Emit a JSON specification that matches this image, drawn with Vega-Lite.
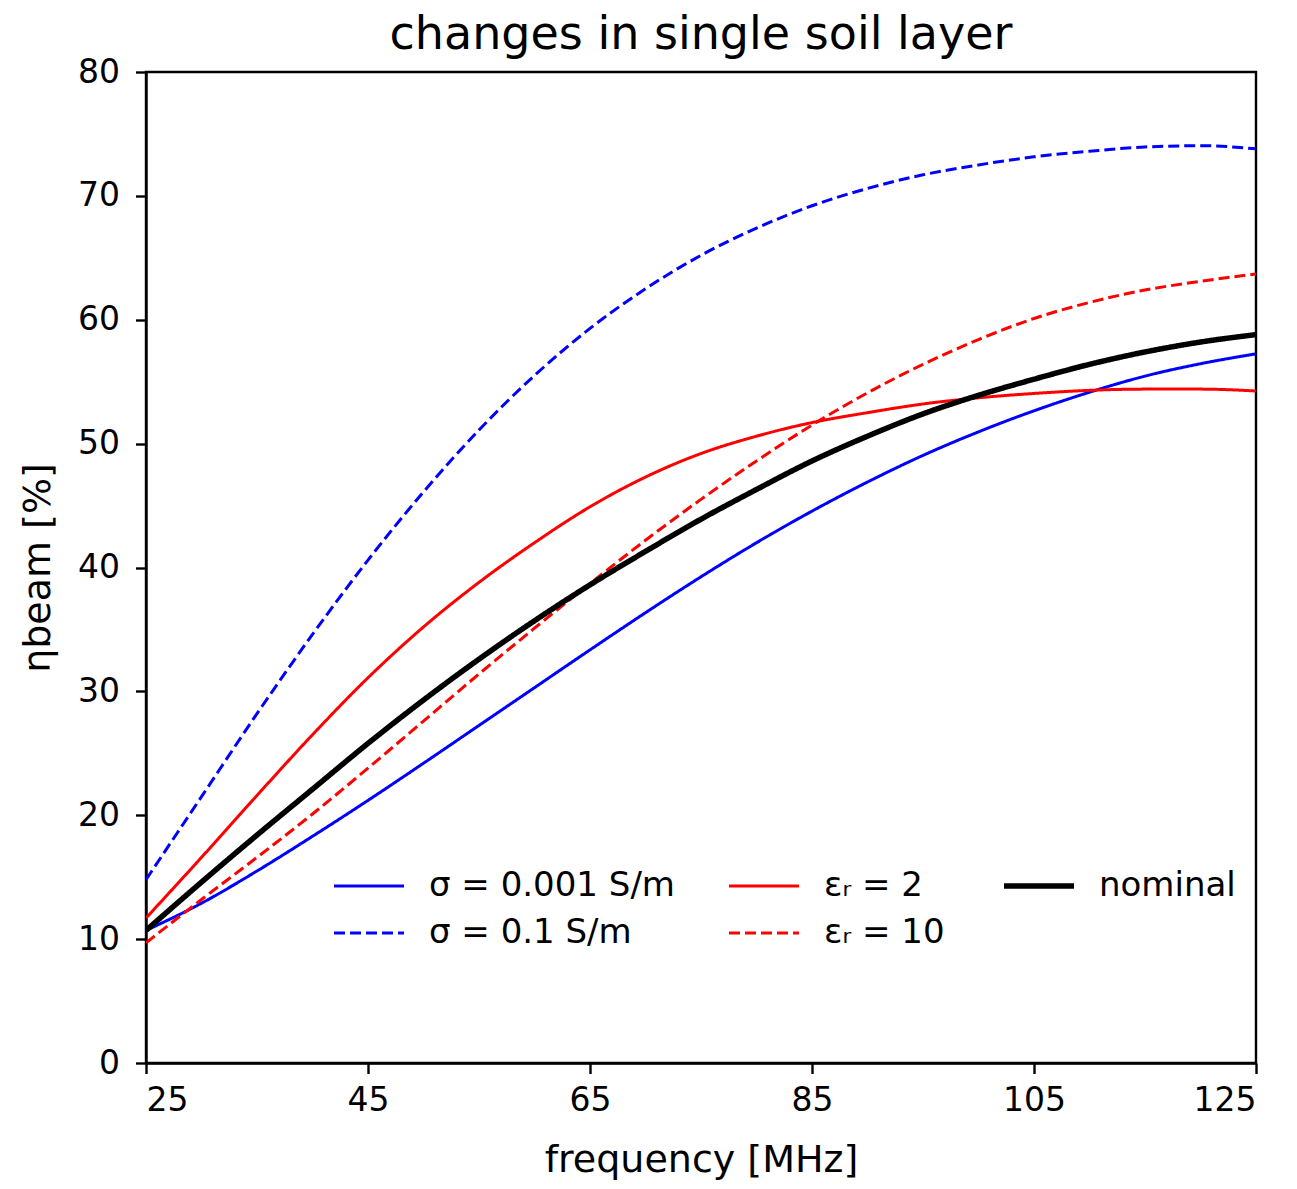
{
  "$schema": "https://vega.github.io/schema/vega-lite/v6.json",
  "width": 1110,
  "height": 991,
  "autosize": {"type": "none"},
  "padding": {"left": 146, "top": 72, "right": 41, "bottom": 126},
  "background": "white",
  "title": {"text": "changes in single soil layer", "fontSize": 46, "font": "DejaVu Sans", "fontWeight": "normal", "color": "black", "offset": -3, "anchor": "middle"},
  "data": {"values": [
    {"f":25,"v":10.7,"s":"σ = 0.001 S/m"},{"f":30,"v":12.9,"s":"σ = 0.001 S/m"},{"f":35,"v":15.5,"s":"σ = 0.001 S/m"},{"f":40,"v":18.3,"s":"σ = 0.001 S/m"},{"f":45,"v":21.2,"s":"σ = 0.001 S/m"},{"f":50,"v":24.2,"s":"σ = 0.001 S/m"},{"f":55,"v":27.25,"s":"σ = 0.001 S/m"},{"f":60,"v":30.3,"s":"σ = 0.001 S/m"},{"f":65,"v":33.35,"s":"σ = 0.001 S/m"},{"f":70,"v":36.35,"s":"σ = 0.001 S/m"},{"f":75,"v":39.25,"s":"σ = 0.001 S/m"},{"f":80,"v":42.0,"s":"σ = 0.001 S/m"},{"f":85,"v":44.55,"s":"σ = 0.001 S/m"},{"f":90,"v":46.9,"s":"σ = 0.001 S/m"},{"f":95,"v":49.05,"s":"σ = 0.001 S/m"},{"f":100,"v":50.95,"s":"σ = 0.001 S/m"},{"f":105,"v":52.65,"s":"σ = 0.001 S/m"},{"f":110,"v":54.15,"s":"σ = 0.001 S/m"},{"f":115,"v":55.45,"s":"σ = 0.001 S/m"},{"f":120,"v":56.45,"s":"σ = 0.001 S/m"},{"f":125,"v":57.25,"s":"σ = 0.001 S/m"},
    {"f":25,"v":14.8,"s":"σ = 0.1 S/m"},{"f":30,"v":21.5,"s":"σ = 0.1 S/m"},{"f":35,"v":28.2,"s":"σ = 0.1 S/m"},{"f":40,"v":34.6,"s":"σ = 0.1 S/m"},{"f":45,"v":40.6,"s":"σ = 0.1 S/m"},{"f":50,"v":46.1,"s":"σ = 0.1 S/m"},{"f":55,"v":51.1,"s":"σ = 0.1 S/m"},{"f":60,"v":55.5,"s":"σ = 0.1 S/m"},{"f":65,"v":59.3,"s":"σ = 0.1 S/m"},{"f":70,"v":62.5,"s":"σ = 0.1 S/m"},{"f":75,"v":65.2,"s":"σ = 0.1 S/m"},{"f":80,"v":67.4,"s":"σ = 0.1 S/m"},{"f":85,"v":69.2,"s":"σ = 0.1 S/m"},{"f":90,"v":70.6,"s":"σ = 0.1 S/m"},{"f":95,"v":71.7,"s":"σ = 0.1 S/m"},{"f":100,"v":72.5,"s":"σ = 0.1 S/m"},{"f":105,"v":73.15,"s":"σ = 0.1 S/m"},{"f":110,"v":73.6,"s":"σ = 0.1 S/m"},{"f":115,"v":73.95,"s":"σ = 0.1 S/m"},{"f":120,"v":74.05,"s":"σ = 0.1 S/m"},{"f":125,"v":73.8,"s":"σ = 0.1 S/m"},
    {"f":25,"v":11.7,"s":"εᵣ = 2"},{"f":30,"v":16.6,"s":"εᵣ = 2"},{"f":35,"v":21.6,"s":"εᵣ = 2"},{"f":40,"v":26.5,"s":"εᵣ = 2"},{"f":45,"v":31.1,"s":"εᵣ = 2"},{"f":50,"v":35.2,"s":"εᵣ = 2"},{"f":55,"v":38.8,"s":"εᵣ = 2"},{"f":60,"v":42.0,"s":"εᵣ = 2"},{"f":65,"v":44.9,"s":"εᵣ = 2"},{"f":70,"v":47.3,"s":"εᵣ = 2"},{"f":75,"v":49.2,"s":"εᵣ = 2"},{"f":80,"v":50.6,"s":"εᵣ = 2"},{"f":85,"v":51.7,"s":"εᵣ = 2"},{"f":90,"v":52.5,"s":"εᵣ = 2"},{"f":95,"v":53.2,"s":"εᵣ = 2"},{"f":100,"v":53.7,"s":"εᵣ = 2"},{"f":105,"v":54.05,"s":"εᵣ = 2"},{"f":110,"v":54.3,"s":"εᵣ = 2"},{"f":115,"v":54.4,"s":"εᵣ = 2"},{"f":120,"v":54.4,"s":"εᵣ = 2"},{"f":125,"v":54.25,"s":"εᵣ = 2"},
    {"f":25,"v":9.7,"s":"εᵣ = 10"},{"f":30,"v":13.2,"s":"εᵣ = 10"},{"f":35,"v":16.6,"s":"εᵣ = 10"},{"f":40,"v":20.1,"s":"εᵣ = 10"},{"f":45,"v":23.8,"s":"εᵣ = 10"},{"f":50,"v":27.6,"s":"εᵣ = 10"},{"f":55,"v":31.4,"s":"εᵣ = 10"},{"f":60,"v":35.1,"s":"εᵣ = 10"},{"f":65,"v":38.7,"s":"εᵣ = 10"},{"f":70,"v":42.2,"s":"εᵣ = 10"},{"f":75,"v":45.5,"s":"εᵣ = 10"},{"f":80,"v":48.6,"s":"εᵣ = 10"},{"f":85,"v":51.5,"s":"εᵣ = 10"},{"f":90,"v":54.1,"s":"εᵣ = 10"},{"f":95,"v":56.4,"s":"εᵣ = 10"},{"f":100,"v":58.4,"s":"εᵣ = 10"},{"f":105,"v":60.1,"s":"εᵣ = 10"},{"f":110,"v":61.4,"s":"εᵣ = 10"},{"f":115,"v":62.4,"s":"εᵣ = 10"},{"f":120,"v":63.1,"s":"εᵣ = 10"},{"f":125,"v":63.7,"s":"εᵣ = 10"},
    {"f":25,"v":10.7,"s":"nominal"},{"f":30,"v":14.6,"s":"nominal"},{"f":35,"v":18.4,"s":"nominal"},{"f":40,"v":22.1,"s":"nominal"},{"f":45,"v":25.8,"s":"nominal"},{"f":50,"v":29.3,"s":"nominal"},{"f":55,"v":32.6,"s":"nominal"},{"f":60,"v":35.7,"s":"nominal"},{"f":65,"v":38.6,"s":"nominal"},{"f":70,"v":41.3,"s":"nominal"},{"f":75,"v":43.9,"s":"nominal"},{"f":80,"v":46.3,"s":"nominal"},{"f":85,"v":48.6,"s":"nominal"},{"f":90,"v":50.6,"s":"nominal"},{"f":95,"v":52.4,"s":"nominal"},{"f":100,"v":53.9,"s":"nominal"},{"f":105,"v":55.2,"s":"nominal"},{"f":110,"v":56.4,"s":"nominal"},{"f":115,"v":57.4,"s":"nominal"},{"f":120,"v":58.2,"s":"nominal"},{"f":125,"v":58.8,"s":"nominal"}
  ]},
  "mark": {"type": "line", "clip": true, "interpolate": "monotone"},
  "encoding": {
    "x": {"field": "f", "type": "quantitative", "scale": {"domain": [25, 125], "nice": false, "zero": false},
          "axis": {"values": [25, 45, 65, 85, 105, 125], "title": "frequency [MHz]", "labelPadding": 11, "titlePadding": 24}},
    "y": {"field": "v", "type": "quantitative", "scale": {"domain": [0, 80], "nice": false},
          "axis": {"values": [0, 10, 20, 30, 40, 50, 60, 70, 80], "title": "ηbeam [%]", "labelPadding": 16, "titlePadding": 20}},
    "color": {"field": "s", "type": "nominal",
              "scale": {"domain": ["σ = 0.001 S/m", "σ = 0.1 S/m", "εᵣ = 2", "εᵣ = 10", "nominal"],
                        "range": ["#0000ff", "#0000ff", "#ff0000", "#ff0000", "#000000"]},
              "legend": {"title": null, "encode": {"symbols": {"update": {"strokeWidth": {"signal": "datum.label === 'nominal' ? 5.5 : 3"}}}}}},
    "strokeDash": {"field": "s", "type": "nominal",
              "scale": {"domain": ["σ = 0.001 S/m", "σ = 0.1 S/m", "εᵣ = 2", "εᵣ = 10", "nominal"],
                        "range": [[1, 0], [11, 5], [1, 0], [11, 5], [1, 0]]},
              "legend": {"title": null}},
    "strokeWidth": {"condition": {"test": "datum.s === 'nominal'", "value": 5.5}, "value": 3}
  },
  "config": {
    "font": "DejaVu Sans",
    "view": {"stroke": "black", "strokeWidth": 2.4},
    "axis": {"grid": false, "labelFont": "DejaVu Sans", "titleFont": "DejaVu Sans", "labelFontSize": 33, "titleFontSize": 38,
             "titleFontWeight": "normal", "labelColor": "black", "titleColor": "black", "tickColor": "black", "tickSize": 10.5,
             "tickWidth": 2.4, "domainColor": "black", "domainWidth": 2.4},
    "legend": {"orient": "none", "legendX": 206, "legendY": 797, "columns": 3, "symbolType": "stroke", "symbolSize": 4900,
               "labelFontSize": 34, "labelFont": "DejaVu Sans", "labelColor": "black", "labelOffset": 43, "rowPadding": 13,
               "columnPadding": 48, "padding": 0, "labelLimit": 500, "symbolStrokeWidth": 3}
  }
}
